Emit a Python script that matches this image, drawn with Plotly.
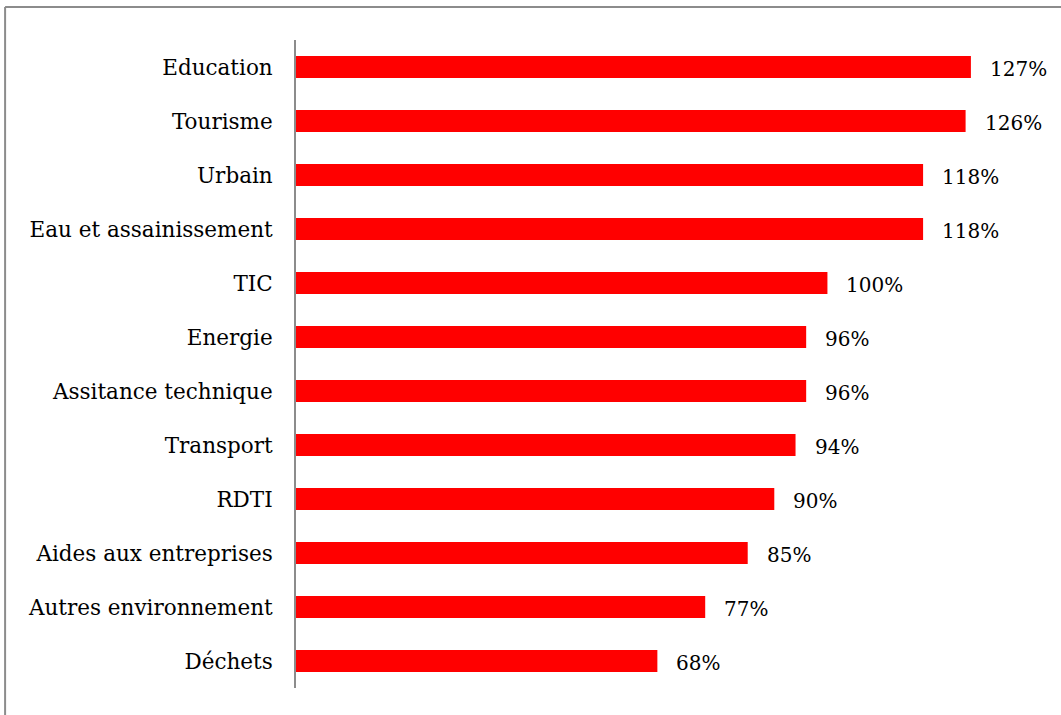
import plotly.graph_objects as go

# Sector names and their rates (%), listed top to bottom
categories = [
    "Education", "Tourisme", "Urbain", "Eau et assainissement", "TIC",
    "Energie", "Assitance technique", "Transport", "RDTI",
    "Aides aux entreprises", "Autres environnement", "Déchets",
]
values = [127, 126, 118, 118, 100, 96, 96, 94, 90, 85, 77, 68]
value_labels = [f"{v}%" for v in values]

FONT = "DejaVu Serif"

fig = go.Figure(
    go.Bar(
        x=values,
        y=categories,
        orientation="h",
        marker=dict(color="#FF0000", line=dict(width=0)),
        width=0.41,
        hoverinfo="skip",
    )
)

# Value labels to the right of each bar
for cat, v, lab in zip(categories, values, value_labels):
    fig.add_annotation(
        x=v, y=cat, text=lab, showarrow=False,
        xanchor="left", yanchor="middle", xshift=17, yshift=-2,
        font=dict(family=FONT, size=20, color="#000000"),
    )

# Outer frame (top and left edges)
frame = dict(color="#8c8c8c", width=2)
fig.add_shape(type="line", xref="paper", yref="paper",
              x0=-0.391, x1=1.2, y0=1.051, y1=1.051, line=frame)
fig.add_shape(type="line", xref="paper", yref="paper",
              x0=-0.391, x1=-0.391, y0=-0.2, y1=1.051, line=frame)

fig.update_layout(
    width=1061, height=715,
    margin=dict(l=296, r=21, t=40, b=27),
    paper_bgcolor="white", plot_bgcolor="white",
    showlegend=False,
    xaxis=dict(range=[0, 140], visible=False, fixedrange=True),
    yaxis=dict(
        categoryorder="array", categoryarray=categories[::-1],
        range=[-0.5, len(categories) - 0.5],
        showline=True, linecolor="#8c8c8c", linewidth=2,
        showgrid=False, zeroline=False, ticks="",
        ticklabelstandoff=17,
        tickfont=dict(family=FONT, size=21.5, color="#000000"),
    ),
)

fig.write_html("out.html")
